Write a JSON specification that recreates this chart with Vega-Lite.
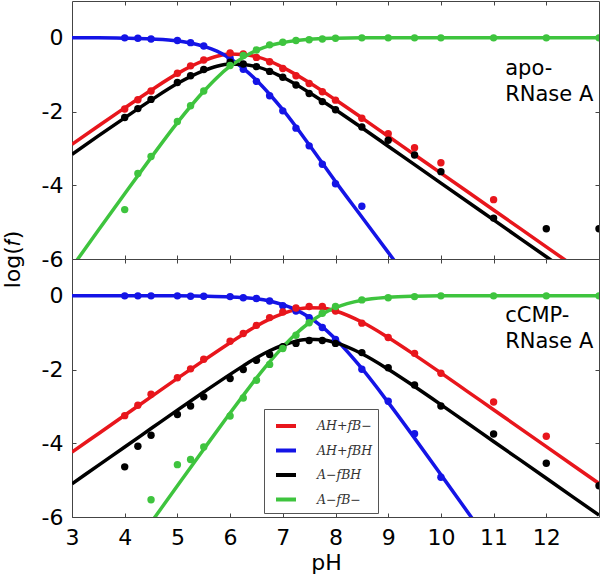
{
"$schema": "https://vega.github.io/schema/vega-lite/v6.json",
"padding": 0,
"background": "white",
"spacing": 0,
"bounds": "flush",
"resolve": {"scale": {"color": "shared"}, "legend": {"color": "shared"}},
"config": {
 "view": {"stroke": "#444", "strokeWidth": 1},
 "axis": {"domain": false, "grid": false, "tickColor": "#444", "tickSize": -4, "tickWidth": 1, "labelFont": "DejaVu Sans", "labelFontSize": 22, "labelColor": "#000", "titleFont": "DejaVu Sans", "titleFontSize": 22, "titleFontWeight": "normal", "titleColor": "#000", "labelFlush": false},
 "legend": {"orient": "none", "legendX": 192, "legendY": 408, "fillColor": "white", "strokeColor": "#555", "padding": 5, "symbolOffset": 5, "symbolType": "stroke", "symbolStrokeWidth": 4, "symbolSize": 400, "labelFont": "DejaVu Serif", "labelFontStyle": "italic", "labelFontSize": 12.5, "labelColor": "#333", "labelOffset": 19, "rowPadding": 4.5}
},
"datasets": {
 "curves": [
  {"p":"a","s":"R","x":3,"y":-2.89},{"p":"a","s":"R","x":3.5,"y":-2.39},{"p":"a","s":"R","x":4,"y":-1.9},{"p":"a","s":"R","x":4.5,"y":-1.42},{"p":"a","s":"R","x":5,"y":-0.97},{"p":"a","s":"R","x":5.5,"y":-0.62},{"p":"a","s":"R","x":5.75,"y":-0.5},{"p":"a","s":"R","x":6,"y":-0.44},{"p":"a","s":"R","x":6.25,"y":-0.45},{"p":"a","s":"R","x":6.5,"y":-0.51},{"p":"a","s":"R","x":6.75,"y":-0.63},{"p":"a","s":"R","x":7,"y":-0.8},{"p":"a","s":"R","x":7.5,"y":-1.21},{"p":"a","s":"R","x":8,"y":-1.68},{"p":"a","s":"R","x":8.5,"y":-2.17},{"p":"a","s":"R","x":9,"y":-2.67},{"p":"a","s":"R","x":9.5,"y":-3.17},{"p":"a","s":"R","x":10,"y":-3.67},{"p":"a","s":"R","x":11,"y":-4.67},{"p":"a","s":"R","x":12,"y":-5.67},{"p":"a","s":"R","x":13,"y":-6.67},
  {"p":"a","s":"B","x":3,"y":0},{"p":"a","s":"B","x":3.5,"y":0},{"p":"a","s":"B","x":4,"y":-0.01},{"p":"a","s":"B","x":4.5,"y":-0.03},{"p":"a","s":"B","x":5,"y":-0.08},{"p":"a","s":"B","x":5.5,"y":-0.23},{"p":"a","s":"B","x":5.75,"y":-0.36},{"p":"a","s":"B","x":6,"y":-0.56},{"p":"a","s":"B","x":6.25,"y":-0.83},{"p":"a","s":"B","x":6.5,"y":-1.15},{"p":"a","s":"B","x":6.75,"y":-1.53},{"p":"a","s":"B","x":7,"y":-1.95},{"p":"a","s":"B","x":7.5,"y":-2.9},{"p":"a","s":"B","x":8,"y":-3.9},{"p":"a","s":"B","x":8.5,"y":-4.86},{"p":"a","s":"B","x":9,"y":-5.82},{"p":"a","s":"B","x":9.5,"y":-6.78},
  {"p":"a","s":"K","x":3,"y":-3.16},{"p":"a","s":"K","x":3.5,"y":-2.66},{"p":"a","s":"K","x":4,"y":-2.17},{"p":"a","s":"K","x":4.5,"y":-1.69},{"p":"a","s":"K","x":5,"y":-1.24},{"p":"a","s":"K","x":5.5,"y":-0.89},{"p":"a","s":"K","x":5.75,"y":-0.77},{"p":"a","s":"K","x":6,"y":-0.71},{"p":"a","s":"K","x":6.25,"y":-0.72},{"p":"a","s":"K","x":6.5,"y":-0.78},{"p":"a","s":"K","x":6.75,"y":-0.9},{"p":"a","s":"K","x":7,"y":-1.07},{"p":"a","s":"K","x":7.5,"y":-1.48},{"p":"a","s":"K","x":8,"y":-1.95},{"p":"a","s":"K","x":8.5,"y":-2.44},{"p":"a","s":"K","x":9,"y":-2.94},{"p":"a","s":"K","x":9.5,"y":-3.44},{"p":"a","s":"K","x":10,"y":-3.94},{"p":"a","s":"K","x":11,"y":-4.94},{"p":"a","s":"K","x":12,"y":-5.94},{"p":"a","s":"K","x":13,"y":-6.94},
  {"p":"a","s":"G","x":3,"y":-6.22},{"p":"a","s":"G","x":3.5,"y":-5.22},{"p":"a","s":"G","x":4,"y":-4.23},{"p":"a","s":"G","x":4.5,"y":-3.25},{"p":"a","s":"G","x":5,"y":-2.3},{"p":"a","s":"G","x":5.5,"y":-1.45},{"p":"a","s":"G","x":5.75,"y":-1.08},{"p":"a","s":"G","x":6,"y":-0.77},{"p":"a","s":"G","x":6.25,"y":-0.53},{"p":"a","s":"G","x":6.5,"y":-0.34},{"p":"a","s":"G","x":6.75,"y":-0.21},{"p":"a","s":"G","x":7,"y":-0.13},{"p":"a","s":"G","x":7.5,"y":-0.04},{"p":"a","s":"G","x":8,"y":-0.01},{"p":"a","s":"G","x":8.5,"y":0},{"p":"a","s":"G","x":9,"y":0},{"p":"a","s":"G","x":10,"y":0},{"p":"a","s":"G","x":11,"y":0},{"p":"a","s":"G","x":12,"y":0},{"p":"a","s":"G","x":13,"y":0},
  {"p":"c","s":"R","x":3,"y":-4.24},{"p":"c","s":"R","x":3.5,"y":-3.74},{"p":"c","s":"R","x":4,"y":-3.24},{"p":"c","s":"R","x":4.5,"y":-2.74},{"p":"c","s":"R","x":5,"y":-2.24},{"p":"c","s":"R","x":5.5,"y":-1.75},{"p":"c","s":"R","x":6,"y":-1.27},{"p":"c","s":"R","x":6.25,"y":-1.04},{"p":"c","s":"R","x":6.5,"y":-0.82},{"p":"c","s":"R","x":6.75,"y":-0.63},{"p":"c","s":"R","x":7,"y":-0.48},{"p":"c","s":"R","x":7.25,"y":-0.37},{"p":"c","s":"R","x":7.5,"y":-0.32},{"p":"c","s":"R","x":7.75,"y":-0.33},{"p":"c","s":"R","x":8,"y":-0.41},{"p":"c","s":"R","x":8.5,"y":-0.71},{"p":"c","s":"R","x":9,"y":-1.13},{"p":"c","s":"R","x":9.5,"y":-1.6},{"p":"c","s":"R","x":10,"y":-2.09},{"p":"c","s":"R","x":10.5,"y":-2.59},{"p":"c","s":"R","x":11,"y":-3.09},{"p":"c","s":"R","x":12,"y":-4.09},{"p":"c","s":"R","x":13,"y":-5.09},
  {"p":"c","s":"B","x":3,"y":0},{"p":"c","s":"B","x":4,"y":0},{"p":"c","s":"B","x":5,"y":0},{"p":"c","s":"B","x":5.5,"y":-0.01},{"p":"c","s":"B","x":6,"y":-0.03},{"p":"c","s":"B","x":6.25,"y":-0.05},{"p":"c","s":"B","x":6.5,"y":-0.08},{"p":"c","s":"B","x":6.75,"y":-0.14},{"p":"c","s":"B","x":7,"y":-0.24},{"p":"c","s":"B","x":7.25,"y":-0.38},{"p":"c","s":"B","x":7.5,"y":-0.58},{"p":"c","s":"B","x":7.75,"y":-0.84},{"p":"c","s":"B","x":8,"y":-1.17},{"p":"c","s":"B","x":8.5,"y":-1.97},{"p":"c","s":"B","x":9,"y":-2.89},{"p":"c","s":"B","x":9.5,"y":-3.86},{"p":"c","s":"B","x":10,"y":-4.85},{"p":"c","s":"B","x":10.5,"y":-5.85},{"p":"c","s":"B","x":11,"y":-6.85},
  {"p":"c","s":"K","x":3,"y":-5.1},{"p":"c","s":"K","x":3.5,"y":-4.6},{"p":"c","s":"K","x":4,"y":-4.1},{"p":"c","s":"K","x":4.5,"y":-3.6},{"p":"c","s":"K","x":5,"y":-3.1},{"p":"c","s":"K","x":5.5,"y":-2.61},{"p":"c","s":"K","x":6,"y":-2.13},{"p":"c","s":"K","x":6.25,"y":-1.9},{"p":"c","s":"K","x":6.5,"y":-1.68},{"p":"c","s":"K","x":6.75,"y":-1.49},{"p":"c","s":"K","x":7,"y":-1.34},{"p":"c","s":"K","x":7.25,"y":-1.23},{"p":"c","s":"K","x":7.5,"y":-1.18},{"p":"c","s":"K","x":7.75,"y":-1.19},{"p":"c","s":"K","x":8,"y":-1.27},{"p":"c","s":"K","x":8.5,"y":-1.57},{"p":"c","s":"K","x":9,"y":-1.99},{"p":"c","s":"K","x":9.5,"y":-2.46},{"p":"c","s":"K","x":10,"y":-2.95},{"p":"c","s":"K","x":10.5,"y":-3.45},{"p":"c","s":"K","x":11,"y":-3.95},{"p":"c","s":"K","x":12,"y":-4.95},{"p":"c","s":"K","x":13,"y":-5.95},
  {"p":"c","s":"G","x":4,"y":-7.15},{"p":"c","s":"G","x":4.5,"y":-6.15},{"p":"c","s":"G","x":5,"y":-5.15},{"p":"c","s":"G","x":5.5,"y":-4.16},{"p":"c","s":"G","x":6,"y":-3.18},{"p":"c","s":"G","x":6.25,"y":-2.7},{"p":"c","s":"G","x":6.5,"y":-2.23},{"p":"c","s":"G","x":6.75,"y":-1.79},{"p":"c","s":"G","x":7,"y":-1.39},{"p":"c","s":"G","x":7.25,"y":-1.03},{"p":"c","s":"G","x":7.5,"y":-0.73},{"p":"c","s":"G","x":7.75,"y":-0.49},{"p":"c","s":"G","x":8,"y":-0.32},{"p":"c","s":"G","x":8.5,"y":-0.12},{"p":"c","s":"G","x":9,"y":-0.04},{"p":"c","s":"G","x":9.5,"y":-0.01},{"p":"c","s":"G","x":10,"y":0},{"p":"c","s":"G","x":11,"y":0},{"p":"c","s":"G","x":12,"y":0},{"p":"c","s":"G","x":13,"y":0}
 ],
 "dots": [
  {"p":"a","s":"B","x":4,"y":0},{"p":"a","s":"B","x":4.25,"y":-0.01},{"p":"a","s":"B","x":4.5,"y":-0.03},{"p":"a","s":"B","x":5,"y":-0.07},{"p":"a","s":"B","x":5.25,"y":-0.13},{"p":"a","s":"B","x":5.5,"y":-0.22},{"p":"a","s":"B","x":6,"y":-0.55},{"p":"a","s":"B","x":6.25,"y":-0.85},{"p":"a","s":"B","x":6.5,"y":-1.18},{"p":"a","s":"B","x":6.75,"y":-1.57},{"p":"a","s":"B","x":7,"y":-1.98},{"p":"a","s":"B","x":7.25,"y":-2.45},{"p":"a","s":"B","x":7.5,"y":-2.93},{"p":"a","s":"B","x":7.75,"y":-3.43},{"p":"a","s":"B","x":8,"y":-3.96},{"p":"a","s":"B","x":8.5,"y":-4.57},
  {"p":"a","s":"R","x":4,"y":-1.93},{"p":"a","s":"R","x":4.25,"y":-1.68},{"p":"a","s":"R","x":4.5,"y":-1.44},{"p":"a","s":"R","x":5,"y":-0.96},{"p":"a","s":"R","x":5.25,"y":-0.76},{"p":"a","s":"R","x":5.5,"y":-0.6},{"p":"a","s":"R","x":6,"y":-0.41},{"p":"a","s":"R","x":6.25,"y":-0.44},{"p":"a","s":"R","x":6.5,"y":-0.53},{"p":"a","s":"R","x":6.75,"y":-0.65},{"p":"a","s":"R","x":7,"y":-0.83},{"p":"a","s":"R","x":7.25,"y":-1.03},{"p":"a","s":"R","x":7.5,"y":-1.24},{"p":"a","s":"R","x":7.75,"y":-1.46},{"p":"a","s":"R","x":8,"y":-1.69},{"p":"a","s":"R","x":8.5,"y":-2.18},{"p":"a","s":"R","x":9,"y":-2.6},{"p":"a","s":"R","x":9.5,"y":-2.98},{"p":"a","s":"R","x":10,"y":-3.39},{"p":"a","s":"R","x":11,"y":-4.39},
  {"p":"a","s":"K","x":4,"y":-2.16},{"p":"a","s":"K","x":4.25,"y":-1.92},{"p":"a","s":"K","x":4.5,"y":-1.67},{"p":"a","s":"K","x":5,"y":-1.21},{"p":"a","s":"K","x":5.25,"y":-1.03},{"p":"a","s":"K","x":5.5,"y":-0.86},{"p":"a","s":"K","x":6,"y":-0.66},{"p":"a","s":"K","x":6.25,"y":-0.71},{"p":"a","s":"K","x":6.5,"y":-0.78},{"p":"a","s":"K","x":6.75,"y":-0.91},{"p":"a","s":"K","x":7,"y":-1.07},{"p":"a","s":"K","x":7.25,"y":-1.28},{"p":"a","s":"K","x":7.5,"y":-1.51},{"p":"a","s":"K","x":7.75,"y":-1.73},{"p":"a","s":"K","x":8,"y":-1.95},{"p":"a","s":"K","x":8.5,"y":-2.42},{"p":"a","s":"K","x":9,"y":-2.78},{"p":"a","s":"K","x":9.5,"y":-3.18},{"p":"a","s":"K","x":10,"y":-3.63},{"p":"a","s":"K","x":11,"y":-4.89},{"p":"a","s":"K","x":12,"y":-5.18},{"p":"a","s":"K","x":13,"y":-5.18},
  {"p":"a","s":"G","x":4,"y":-4.66},{"p":"a","s":"G","x":4.25,"y":-3.68},{"p":"a","s":"G","x":4.5,"y":-3.22},{"p":"a","s":"G","x":5,"y":-2.27},{"p":"a","s":"G","x":5.25,"y":-1.84},{"p":"a","s":"G","x":5.5,"y":-1.44},{"p":"a","s":"G","x":6,"y":-0.75},{"p":"a","s":"G","x":6.25,"y":-0.48},{"p":"a","s":"G","x":6.5,"y":-0.33},{"p":"a","s":"G","x":6.75,"y":-0.19},{"p":"a","s":"G","x":7,"y":-0.12},{"p":"a","s":"G","x":7.25,"y":-0.07},{"p":"a","s":"G","x":7.5,"y":-0.05},{"p":"a","s":"G","x":7.75,"y":-0.03},{"p":"a","s":"G","x":8,"y":-0.01},{"p":"a","s":"G","x":8.5,"y":0},{"p":"a","s":"G","x":9,"y":0},{"p":"a","s":"G","x":9.5,"y":0},{"p":"a","s":"G","x":10,"y":0},{"p":"a","s":"G","x":11,"y":0},{"p":"a","s":"G","x":12,"y":0},{"p":"a","s":"G","x":13,"y":0},
  {"p":"c","s":"B","x":4,"y":0},{"p":"c","s":"B","x":4.25,"y":0},{"p":"c","s":"B","x":4.5,"y":0},{"p":"c","s":"B","x":5,"y":0},{"p":"c","s":"B","x":5.25,"y":-0.01},{"p":"c","s":"B","x":5.5,"y":-0.01},{"p":"c","s":"B","x":6,"y":-0.02},{"p":"c","s":"B","x":6.25,"y":-0.05},{"p":"c","s":"B","x":6.5,"y":-0.07},{"p":"c","s":"B","x":6.75,"y":-0.14},{"p":"c","s":"B","x":7,"y":-0.27},{"p":"c","s":"B","x":7.25,"y":-0.41},{"p":"c","s":"B","x":7.5,"y":-0.59},{"p":"c","s":"B","x":7.75,"y":-0.86},{"p":"c","s":"B","x":8,"y":-1.18},{"p":"c","s":"B","x":8.5,"y":-1.99},{"p":"c","s":"B","x":9,"y":-2.86},{"p":"c","s":"B","x":9.5,"y":-3.74},{"p":"c","s":"B","x":10,"y":-4.92},
  {"p":"c","s":"R","x":4,"y":-3.25},{"p":"c","s":"R","x":4.25,"y":-2.97},{"p":"c","s":"R","x":4.5,"y":-2.67},{"p":"c","s":"R","x":5,"y":-2.22},{"p":"c","s":"R","x":5.25,"y":-1.98},{"p":"c","s":"R","x":5.5,"y":-1.72},{"p":"c","s":"R","x":6,"y":-1.23},{"p":"c","s":"R","x":6.25,"y":-1.02},{"p":"c","s":"R","x":6.5,"y":-0.8},{"p":"c","s":"R","x":6.75,"y":-0.59},{"p":"c","s":"R","x":7,"y":-0.44},{"p":"c","s":"R","x":7.25,"y":-0.33},{"p":"c","s":"R","x":7.5,"y":-0.29},{"p":"c","s":"R","x":7.75,"y":-0.29},{"p":"c","s":"R","x":8,"y":-0.41},{"p":"c","s":"R","x":8.5,"y":-0.74},{"p":"c","s":"R","x":9,"y":-1.13},{"p":"c","s":"R","x":9.5,"y":-1.56},{"p":"c","s":"R","x":10,"y":-2.1},{"p":"c","s":"R","x":11,"y":-2.88},{"p":"c","s":"R","x":12,"y":-3.81},
  {"p":"c","s":"K","x":4,"y":-4.64},{"p":"c","s":"K","x":4.25,"y":-4.08},{"p":"c","s":"K","x":4.5,"y":-3.78},{"p":"c","s":"K","x":5,"y":-3.22},{"p":"c","s":"K","x":5.25,"y":-2.99},{"p":"c","s":"K","x":5.5,"y":-2.74},{"p":"c","s":"K","x":6,"y":-2.24},{"p":"c","s":"K","x":6.25,"y":-2.0},{"p":"c","s":"K","x":6.5,"y":-1.75},{"p":"c","s":"K","x":6.75,"y":-1.59},{"p":"c","s":"K","x":7,"y":-1.38},{"p":"c","s":"K","x":7.25,"y":-1.29},{"p":"c","s":"K","x":7.5,"y":-1.21},{"p":"c","s":"K","x":7.75,"y":-1.21},{"p":"c","s":"K","x":8,"y":-1.29},{"p":"c","s":"K","x":8.5,"y":-1.54},{"p":"c","s":"K","x":9,"y":-1.95},{"p":"c","s":"K","x":9.5,"y":-2.42},{"p":"c","s":"K","x":10,"y":-2.99},{"p":"c","s":"K","x":11,"y":-3.75},{"p":"c","s":"K","x":12,"y":-4.54},{"p":"c","s":"K","x":13,"y":-5.15},
  {"p":"c","s":"G","x":4.5,"y":-5.53},{"p":"c","s":"G","x":5,"y":-4.58},{"p":"c","s":"G","x":5.25,"y":-4.44},{"p":"c","s":"G","x":5.5,"y":-4.1},{"p":"c","s":"G","x":6,"y":-3.26},{"p":"c","s":"G","x":6.25,"y":-2.77},{"p":"c","s":"G","x":6.5,"y":-2.29},{"p":"c","s":"G","x":6.75,"y":-1.86},{"p":"c","s":"G","x":7,"y":-1.43},{"p":"c","s":"G","x":7.25,"y":-1.07},{"p":"c","s":"G","x":7.5,"y":-0.73},{"p":"c","s":"G","x":7.75,"y":-0.47},{"p":"c","s":"G","x":8,"y":-0.29},{"p":"c","s":"G","x":8.5,"y":-0.11},{"p":"c","s":"G","x":9,"y":-0.05},{"p":"c","s":"G","x":9.5,"y":-0.02},{"p":"c","s":"G","x":10,"y":0},{"p":"c","s":"G","x":11,"y":0},{"p":"c","s":"G","x":12,"y":0},{"p":"c","s":"G","x":13,"y":0}
 ],
 "labels": [
  {"p":"a","x":11.22,"y":-1.0,"t":"apo-\nRNase A"},
  {"p":"c","x":11.22,"y":-0.7,"t":"cCMP-\nRNase A"}
 ]
},
"vconcat": [
 {
  "width": 527, "height": 258,
  "resolve": {"axis": {"x": "independent", "y": "independent"}},
  "layer": [
   {"data": {"name": "curves"}, "transform": [{"filter": "datum.p == 'a'"}],
    "mark": {"type": "line", "strokeWidth": 3.5, "clip": true, "interpolate": "monotone"},
    "encoding": {
     "x": {"field": "x", "type": "quantitative", "scale": {"domain": [3, 13], "nice": false, "zero": false}, "axis": {"values": [4,5,6,7,8,9,10,11,12], "labels": false, "title": null}},
     "y": {"field": "y", "type": "quantitative", "scale": {"domain": [-6, 1], "nice": false, "zero": false}, "axis": {"values": [0,-2,-4,-6], "labelExpr": "'' + datum.value", "labelPadding": 13, "title": "log(𝑓)", "titleX": -60, "titleY": 258, "titleAngle": 270, "titleAlign": "center", "titleBaseline": "middle"}},
     "color": {"field": "s", "type": "nominal", "scale": {"domain": ["R","B","K","G"], "range": ["#e8161c","#1414e6","#000000","#3ec43e"]},
      "legend": {"title": null, "symbolType": "stroke", "labelExpr": "{'R': 'AH+fB−', 'B': 'AH+fBH', 'K': 'A−fBH', 'G': 'A−fB−'}[datum.label]"}}
    }},
   {"data": {"name": "dots"}, "transform": [{"filter": "datum.p == 'a'"}],
    "mark": {"type": "circle", "size": 55, "opacity": 1, "clip": true},
    "encoding": {
     "x": {"field": "x", "type": "quantitative", "scale": {"domain": [3, 13], "nice": false, "zero": false}, "axis": {"orient": "top", "values": [4,5,6,7,8,9,10,11,12], "labels": false, "title": null}},
     "y": {"field": "y", "type": "quantitative", "scale": {"domain": [-6, 1], "nice": false, "zero": false}, "axis": {"orient": "right", "values": [0,-2,-4,-6], "labels": false, "title": null}},
     "color": {"field": "s", "type": "nominal", "scale": {"domain": ["R","B","K","G"], "range": ["#e8161c","#1414e6","#000000","#3ec43e"]},
      "legend": {"title": null, "symbolType": "stroke", "labelExpr": "{'R': 'AH+fB−', 'B': 'AH+fBH', 'K': 'A−fBH', 'G': 'A−fB−'}[datum.label]"}}
    }},
   {"data": {"name": "labels"}, "transform": [{"filter": "datum.p == 'a'"}],
    "mark": {"type": "text", "align": "left", "baseline": "alphabetic", "font": "DejaVu Sans", "fontSize": 21, "lineBreak": "\n", "lineHeight": 26, "color": "#000"},
    "encoding": {
     "x": {"field": "x", "type": "quantitative", "scale": {"domain": [3, 13], "nice": false, "zero": false}, "axis": null},
     "y": {"field": "y", "type": "quantitative", "scale": {"domain": [-6, 1], "nice": false, "zero": false}, "axis": null},
     "text": {"field": "t"}
    }}
  ]
 },
 {
  "width": 527, "height": 258,
  "resolve": {"axis": {"x": "independent", "y": "independent"}},
  "layer": [
   {"data": {"name": "curves"}, "transform": [{"filter": "datum.p == 'c'"}],
    "mark": {"type": "line", "strokeWidth": 3.5, "clip": true, "interpolate": "monotone"},
    "encoding": {
     "x": {"field": "x", "type": "quantitative", "scale": {"domain": [3, 13], "nice": false, "zero": false}, "axis": {"values": [3,4,5,6,7,8,9,10,11,12], "labelPadding": 14, "title": "pH", "titlePadding": 4, "titleX": 254, "titleAlign": "center"}},
     "y": {"field": "y", "type": "quantitative", "scale": {"domain": [-6, 1], "nice": false, "zero": false}, "axis": {"values": [0,-2,-4,-6], "labelExpr": "'' + datum.value", "labelPadding": 13, "title": null}},
     "color": {"field": "s", "type": "nominal", "scale": {"domain": ["R","B","K","G"], "range": ["#e8161c","#1414e6","#000000","#3ec43e"]},
      "legend": {"title": null, "symbolType": "stroke", "labelExpr": "{'R': 'AH+fB−', 'B': 'AH+fBH', 'K': 'A−fBH', 'G': 'A−fB−'}[datum.label]"}}
    }},
   {"data": {"name": "dots"}, "transform": [{"filter": "datum.p == 'c'"}],
    "mark": {"type": "circle", "size": 55, "opacity": 1, "clip": true},
    "encoding": {
     "x": {"field": "x", "type": "quantitative", "scale": {"domain": [3, 13], "nice": false, "zero": false}, "axis": {"orient": "top", "values": [4,5,6,7,8,9,10,11,12], "labels": false, "title": null}},
     "y": {"field": "y", "type": "quantitative", "scale": {"domain": [-6, 1], "nice": false, "zero": false}, "axis": {"orient": "right", "values": [0,-2,-4,-6], "labels": false, "title": null}},
     "color": {"field": "s", "type": "nominal", "scale": {"domain": ["R","B","K","G"], "range": ["#e8161c","#1414e6","#000000","#3ec43e"]},
      "legend": {"title": null, "symbolType": "stroke", "labelExpr": "{'R': 'AH+fB−', 'B': 'AH+fBH', 'K': 'A−fBH', 'G': 'A−fB−'}[datum.label]"}}
    }},
   {"data": {"name": "labels"}, "transform": [{"filter": "datum.p == 'c'"}],
    "mark": {"type": "text", "align": "left", "baseline": "alphabetic", "font": "DejaVu Sans", "fontSize": 21, "lineBreak": "\n", "lineHeight": 26, "color": "#000"},
    "encoding": {
     "x": {"field": "x", "type": "quantitative", "scale": {"domain": [3, 13], "nice": false, "zero": false}, "axis": null},
     "y": {"field": "y", "type": "quantitative", "scale": {"domain": [-6, 1], "nice": false, "zero": false}, "axis": null},
     "text": {"field": "t"}
    }}
  ]
 }
]
}
